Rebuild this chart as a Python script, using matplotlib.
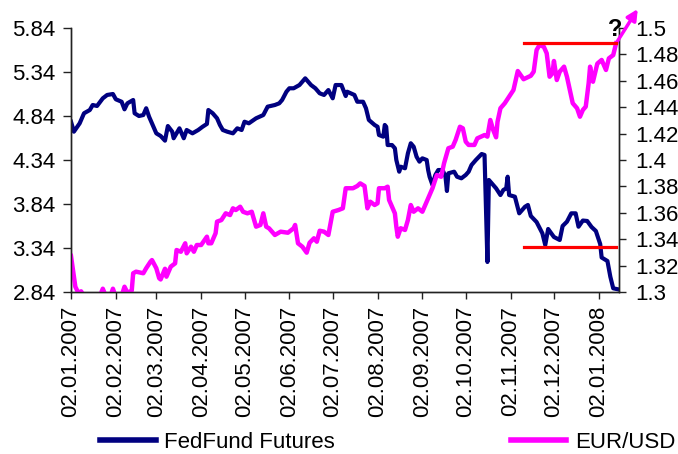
import numpy as np
import matplotlib
matplotlib.use('Agg')
import matplotlib.pyplot as plt
from matplotlib.lines import Line2D

plt.rcParams['font.family'] = ['Liberation Sans', 'DejaVu Sans']

# ---------------- data ----------------
start_date = np.datetime64('2007-01-02')

# FedFund Futures (left axis): days after 02.01.2007 and values
ff_days = [0, 2, 6, 9, 13, 15, 18, 22, 25, 29, 31, 35, 37, 39, 43, 44, 47, 50, 52, 54,
           57, 59, 62, 65, 67, 70, 71, 75, 78, 80, 84, 88, 91, 94, 95, 98, 101, 103, 105, 108,
           112, 115, 118, 120, 123, 128, 133, 136, 141, 144, 146, 149, 151, 154, 158, 162, 166, 169, 172, 175,
           178, 181, 183, 187, 190, 191, 196, 198, 202, 204, 206, 210, 212, 213, 216, 217, 218, 219, 222, 224,
           225, 227, 228, 231, 233, 235, 237, 239, 241, 243, 246, 247, 248, 250, 252, 254, 257, 259, 260, 261,
           265, 267, 270, 273, 275, 277, 280, 284, 286, 288, 289, 292, 294, 297, 299, 301, 302, 303, 307, 310,
           314, 316, 318, 322, 326, 328, 330, 334, 338, 340, 343, 346, 349, 351, 354, 357, 360, 363, 366, 367,
           371, 373, 375, 379]
ff_values = [4.775, 4.662, 4.757, 4.871, 4.908, 4.965, 4.954, 5.041, 5.079, 5.090, 5.030, 5.002, 4.916, 4.984, 5.022, 4.871, 4.840, 4.851, 4.928, 4.832,
             4.718, 4.643, 4.613, 4.560, 4.726, 4.662, 4.587, 4.700, 4.587, 4.681, 4.643, 4.681, 4.718, 4.750, 4.908, 4.871, 4.814, 4.738, 4.681, 4.662,
             4.643, 4.700, 4.681, 4.775, 4.757, 4.814, 4.851, 4.946, 4.965, 4.984, 5.022, 5.116, 5.155, 5.155, 5.192, 5.268, 5.192, 5.155, 5.098, 5.079,
             5.135, 5.041, 5.192, 5.192, 5.067, 5.116, 5.079, 5.002, 5.002, 4.928, 4.795, 4.738, 4.718, 4.624, 4.605, 4.738, 4.718, 4.510, 4.510, 4.473,
             4.340, 4.207, 4.264, 4.246, 4.416, 4.530, 4.491, 4.377, 4.321, 4.359, 4.340, 4.226, 4.150, 4.056, 4.170, 4.226, 4.226, 4.150, 3.988, 4.189,
             4.207, 4.150, 4.132, 4.170, 4.207, 4.283, 4.340, 4.408, 4.397, 3.181, 4.113, 4.056, 4.018, 3.942, 3.999, 4.018, 4.150, 3.942, 3.923, 3.734,
             3.809, 3.829, 3.704, 3.635, 3.507, 3.374, 3.556, 3.465, 3.431, 3.590, 3.639, 3.734, 3.734, 3.582, 3.652, 3.647, 3.579, 3.533, 3.385, 3.232,
             3.192, 3.014, 2.882, 2.868]

# EUR/USD (right axis)
eur_days = [0, 3, 5, 7, 10, 14, 18, 20, 22, 24, 27, 29, 31, 35, 37, 39, 41, 42, 43, 45,
            50, 52, 55, 56, 59, 61, 62, 65, 66, 69, 72, 73, 76, 79, 80, 83, 85, 87, 90, 94,
            95, 97, 100, 101, 104, 107, 110, 112, 114, 117, 119, 122, 125, 128, 131, 133, 135, 137, 141, 145,
            150, 154, 155, 157, 160, 163, 165, 168, 170, 172, 175, 178, 181, 185, 188, 190, 195, 198, 200, 203,
            205, 207, 210, 212, 213, 217, 219, 220, 224, 225, 226, 228, 231, 233, 235, 237, 240, 243, 246, 250,
            253, 256, 258, 261, 264, 266, 269, 271, 273, 275, 279, 281, 286, 288, 290, 292, 294, 295, 297, 300,
            303, 306, 309, 313, 318, 320, 322, 324, 327, 329, 331, 333, 334, 336, 338, 341, 343, 347, 350, 352,
            354, 356, 358, 359, 361, 364, 367, 370, 372, 375, 377]
eur_values = [1.3273, 1.3040, 1.2995, 1.3005, 1.2950, 1.2940, 1.2960, 1.2970, 1.3025, 1.2970, 1.2960, 1.3025, 1.2960, 1.2970, 1.3040, 1.2995, 1.3005, 1.3010, 1.3142, 1.3154,
              1.3142, 1.3180, 1.3230, 1.3242, 1.3180, 1.3104, 1.3095, 1.3176, 1.3116, 1.3192, 1.3217, 1.3318, 1.3305, 1.3369, 1.3293, 1.3343, 1.3305, 1.3356, 1.3356, 1.3419,
              1.3369, 1.3369, 1.3445, 1.3533, 1.3545, 1.3596, 1.3583, 1.3634, 1.3621, 1.3646, 1.3608, 1.3596, 1.3608, 1.3495, 1.3508, 1.3596, 1.3495, 1.3482, 1.3432, 1.3457,
              1.3449, 1.3483, 1.3508, 1.3369, 1.3343, 1.3298, 1.3373, 1.3407, 1.3381, 1.3464, 1.3457, 1.3432, 1.3608, 1.3621, 1.3634, 1.3786, 1.3786, 1.3803, 1.3823, 1.3803,
              1.3634, 1.3684, 1.3659, 1.3672, 1.3786, 1.3786, 1.3798, 1.3697, 1.3596, 1.3495, 1.3419, 1.3483, 1.3470, 1.3545, 1.3659, 1.3608, 1.3634, 1.3608, 1.3684, 1.3786,
              1.3886, 1.3873, 1.3975, 1.4089, 1.4101, 1.4152, 1.4252, 1.4240, 1.4139, 1.4114, 1.4114, 1.4164, 1.4189, 1.4177, 1.4303, 1.4227, 1.4172, 1.4290, 1.4392, 1.4430,
              1.4480, 1.4530, 1.4674, 1.4612, 1.4638, 1.4669, 1.4833, 1.4871, 1.4858, 1.4808, 1.4631, 1.4657, 1.4750, 1.4606, 1.4669, 1.4707, 1.4631, 1.4430, 1.4392, 1.4328,
              1.4379, 1.4404, 1.4581, 1.4707, 1.4593, 1.4730, 1.4758, 1.4682, 1.4770, 1.4795, 1.4884]

tick_dates = ['2007-01-02', '2007-02-02', '2007-03-02', '2007-04-02', '2007-05-02', '2007-06-02',
              '2007-07-02', '2007-08-02', '2007-09-02', '2007-10-02', '2007-11-02', '2007-12-02', '2008-01-02']
tick_labels = ['02.01.2007', '02.02.2007', '02.03.2007', '02.04.2007', '02.05.2007', '02.06.2007',
               '02.07.2007', '02.08.2007', '02.09.2007', '02.10.2007', '02.11.2007', '02.12.2007', '02.01.2008']
left_ticks = [2.84, 3.34, 3.84, 4.34, 4.84, 5.34, 5.84]
left_labels = ['2.84', '3.34', '3.84', '4.34', '4.84', '5.34', '5.84']
right_ticks = [1.30, 1.32, 1.34, 1.36, 1.38, 1.40, 1.42, 1.44, 1.46, 1.48, 1.50]
right_labels = ['1.3', '1.32', '1.34', '1.36', '1.38', '1.4', '1.42', '1.44', '1.46', '1.48', '1.5']

x_end_day = 379
eur_resistance = 1.4884
ff_support = 3.348
level_start_day, level_end_day = 313, 377
arrow_end_day, arrow_end_value = 392, 1.5144
question_day, question_value = 376, 1.4985

legend_labels = ['FedFund Futures', 'EUR/USD']

NAVY = '#000080'
MAGENTA = '#FF00FF'
RED = '#FF0000'
FS = 16


def to_dates(days):
    return start_date + np.array(days).astype('timedelta64[D]')


# ---------------- figure ----------------
W, H = 678, 454
fig = plt.figure(figsize=(W / 100, H / 100), dpi=100)
ax = fig.add_axes([71 / W, 1 - 292 / H, (619 - 71) / W, 264 / H])
ax2 = ax.twinx()

ax.plot(to_dates(ff_days), ff_values, color=NAVY, lw=3.0, solid_joinstyle='round', zorder=2)
ax2.plot(to_dates(eur_days), eur_values, color=MAGENTA, lw=3.2, solid_joinstyle='round', zorder=2)

# support / resistance levels
ax.plot(to_dates([level_start_day, level_end_day]), [ff_support, ff_support], color=RED, lw=2.3, zorder=5)
ax2.plot(to_dates([level_start_day, level_end_day]), [eur_resistance, eur_resistance], color=RED, lw=2.3, zorder=5)

# arrow & question mark
ax2.annotate('', xy=(to_dates([arrow_end_day])[0], arrow_end_value),
             xytext=(to_dates([eur_days[-1]])[0], eur_values[-1]),
             arrowprops=dict(arrowstyle='-|>', color=MAGENTA, lw=2.5, mutation_scale=16,
                             shrinkA=0, shrinkB=0),
             annotation_clip=False)
ax2.text(to_dates([question_day])[0], question_value, '?', fontsize=17, fontweight='bold',
         ha='center', va='center', color='black', clip_on=False)

# axes limits
ax.set_xlim(to_dates([0])[0], to_dates([x_end_day])[0])
ax.set_ylim(left_ticks[0], left_ticks[-1])
ax2.set_ylim(right_ticks[0], right_ticks[-1])

ax.set_xticks(np.array(tick_dates, dtype='datetime64[D]'))
ax.set_xticklabels(tick_labels, rotation=90, ha='center', va='top')
ax.set_yticks(left_ticks)
ax.set_yticklabels(left_labels)
ax2.set_yticks(right_ticks)
ax2.set_yticklabels(right_labels)

for a in (ax, ax2):
    a.spines['top'].set_visible(False)
    for s in ('left', 'right', 'bottom'):
        a.spines[s].set_color('#222222')
        a.spines[s].set_linewidth(1.0)
    a.set_facecolor('none')

ax.tick_params(axis='x', direction='out', length=5, width=1, labelsize=FS, pad=5, colors='#222222', labelcolor='black')
ax.tick_params(axis='y', direction='out', length=6, width=1, labelsize=FS, pad=5, colors='#222222', labelcolor='black')
ax2.tick_params(axis='y', direction='out', length=5, width=1, labelsize=FS, pad=7, colors='#222222', labelcolor='black')

handles = [Line2D([], [], color=NAVY, lw=4), Line2D([], [], color=MAGENTA, lw=4)]
fig.legend(handles, legend_labels, loc='center left', bbox_to_anchor=(100 / W, 1 - 442 / H),
           ncol=2, frameon=False, fontsize=FS, handlelength=2.5, handletextpad=0.4,
           columnspacing=7.9, borderpad=0, borderaxespad=0)

fig.savefig('out.png', dpi=100)
